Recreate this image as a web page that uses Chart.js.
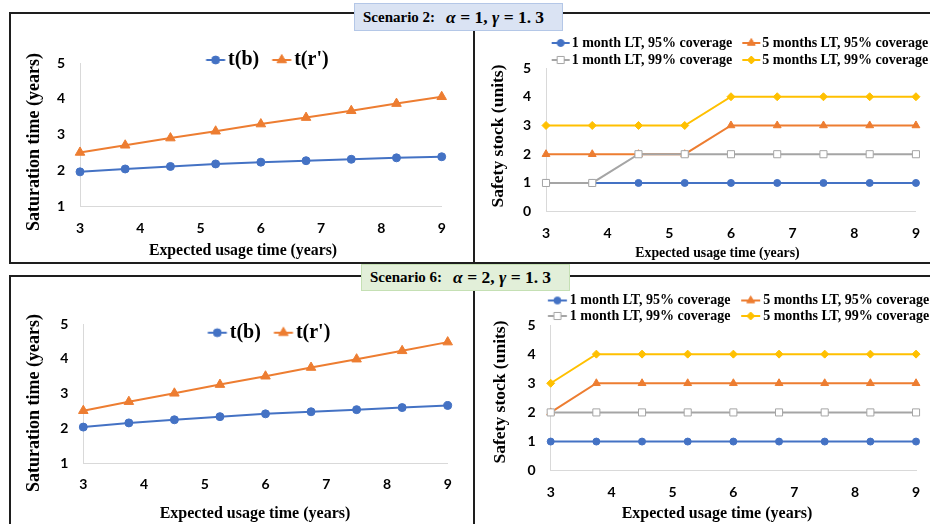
<!DOCTYPE html>
<html><head><meta charset="utf-8">
<script src="https://cdn.jsdelivr.net/npm/chart.js@4.4.1/dist/chart.umd.min.js"></script>
<style>
html,body{margin:0;padding:0;background:#fff;}
body{width:930px;height:524px;overflow:hidden;position:relative;}
.ln{position:absolute;background:#1e1e1e;}
.banner{position:absolute;box-sizing:border-box;display:flex;align-items:center;padding-left:8px;font-family:'Liberation Serif',serif;font-weight:bold;font-size:15px;color:#000;white-space:nowrap;}
.banner .m{font-size:17.5px;margin-left:11px;}
canvas{position:absolute;}
.t{position:absolute;font-family:'Liberation Serif',serif;font-weight:bold;color:#000;white-space:nowrap;transform:translate(-50%,-50%);}
.ty{transform:translate(-50%,-50%) rotate(-90deg);}
</style></head><body>
<!-- frame lines -->
<div class="ln" style="left:8.5px;top:11.5px;width:922px;height:2px"></div>
<div class="ln" style="left:8.5px;top:11.5px;width:2px;height:252px"></div>
<div class="ln" style="left:8.5px;top:261.5px;width:922px;height:2px"></div>
<div class="ln" style="left:472.5px;top:30px;width:2px;height:232px"></div>
<div class="ln" style="left:8.5px;top:275px;width:922px;height:2px"></div>
<div class="ln" style="left:8.5px;top:275px;width:2px;height:250px"></div>
<div class="ln" style="left:472.5px;top:290px;width:2px;height:240px"></div>

<canvas id="c1" width="458" height="226" style="left:12px;top:34px"></canvas>
<canvas id="c2" width="457" height="229" style="left:476px;top:33px"></canvas>
<canvas id="c3" width="458" height="244" style="left:12px;top:280px"></canvas>
<canvas id="c4" width="457" height="232" style="left:476px;top:292px"></canvas>

<div class="banner" style="left:354px;top:3px;width:209px;height:28px;background:#dae3f3;border:1px solid #b4c7e7;">Scenario 2:<span class="m"><i>α</i> = 1, <i>γ</i> = 1.<span style="margin-left:4px">3</span></span></div>
<div class="banner" style="left:361px;top:264px;width:209px;height:27px;background:#e2efd9;border:1px solid #c5e0b4;">Scenario 6:<span class="m"><i>α</i> = 2, <i>γ</i> = 1.<span style="margin-left:4px">3</span></span></div>

<div class="t ty" style="left:33px;top:141.5px;font-size:18px">Saturation time (years)</div>
<div class="t" style="left:243px;top:250px;font-size:15.8px">Expected usage time (years)</div>
<div class="t ty" style="left:497px;top:135.5px;font-size:17.5px">Safety stock (units)</div>
<div class="t" style="left:717.5px;top:253px;font-size:13.8px">Expected usage time (years)</div>
<div class="t ty" style="left:33px;top:403px;font-size:18px">Saturation time (years)</div>
<div class="t" style="left:255px;top:513px;font-size:16px">Expected usage time (years)</div>
<div class="t ty" style="left:498.7px;top:391.7px;font-size:17.5px">Safety stock (units)</div>
<div class="t" style="left:717px;top:513px;font-size:16px">Expected usage time (years)</div>

<script>
// ---------- data ----------
const usageYears = [3, 3.75, 4.5, 5.25, 6, 6.75, 7.5, 8.25, 9];
const xTickValues = [3, 4, 5, 6, 7, 8, 9];
const satTickValues = [1, 2, 3, 4, 5];
const stockTickValues = [0, 1, 2, 3, 4, 5];

const satNames = ['t(b)', "t(r')"];
const stockNames = ['1 month LT, 95% coverage', '5 months LT, 95% coverage', '1 month LT, 99% coverage', '5 months LT, 99% coverage'];

// Scenario 2 (alpha = 1, gamma = 1.3)
const s2_tb = [1.97, 2.05, 2.12, 2.19, 2.24, 2.28, 2.32, 2.36, 2.39];
const s2_tr = [2.51, 2.71, 2.91, 3.10, 3.30, 3.48, 3.67, 3.87, 4.06];
const s2_1m95 = [1, 1, 1, 1, 1, 1, 1, 1, 1];
const s2_5m95 = [2, 2, 2, 2, 3, 3, 3, 3, 3];
const s2_1m99 = [1, 1, 2, 2, 2, 2, 2, 2, 2];
const s2_5m99 = [3, 3, 3, 3, 4, 4, 4, 4, 4];

// Scenario 6 (alpha = 2, gamma = 1.3)
const s6_tb = [2.04, 2.16, 2.25, 2.34, 2.42, 2.48, 2.54, 2.60, 2.66];
const s6_tr = [2.51, 2.77, 3.01, 3.26, 3.50, 3.75, 3.99, 4.23, 4.48];
const s6_1m95 = [1, 1, 1, 1, 1, 1, 1, 1, 1];
const s6_5m95 = [2, 3, 3, 3, 3, 3, 3, 3, 3];
const s6_1m99 = [2, 2, 2, 2, 2, 2, 2, 2, 2];
const s6_5m99 = [3, 4, 4, 4, 4, 4, 4, 4, 4];

// ---------- styles ----------
const BLUE = '#4472c4', ORANGE = '#ed7d31', GRAY = '#a5a5a5', GOLD = '#ffc000';
const satStyles = [
  {color: BLUE, fill: BLUE, style: 'circle', r: 4},
  {color: ORANGE, fill: ORANGE, style: 'triangle', r: 5.5}
];
const stockStyles = [
  {color: BLUE, fill: BLUE, style: 'circle', r: 3.5},
  {color: ORANGE, fill: ORANGE, style: 'triangle', r: 4.5},
  {color: GRAY, fill: '#ffffff', style: 'rect', r: 5},
  {color: GOLD, fill: GOLD, style: 'rectRot', r: 4}
];

function marker(g, style, x, y, r, color, fill) {
  g.beginPath();
  if (style === 'circle') g.arc(x, y, r, 0, Math.PI * 2);
  else if (style === 'triangle') { g.moveTo(x, y - r); g.lineTo(x + r * 0.866, y + r * 0.5); g.lineTo(x - r * 0.866, y + r * 0.5); g.closePath(); }
  else if (style === 'rect') { const s = r * Math.SQRT1_2; g.rect(x - s, y - s, 2 * s, 2 * s); }
  else if (style === 'rectRot') { g.moveTo(x, y - r); g.lineTo(x + r, y); g.lineTo(x, y + r); g.lineTo(x - r, y); g.closePath(); }
  g.fillStyle = fill; g.fill(); g.lineWidth = 1; g.strokeStyle = color; g.stroke();
}
// legend icon: line + marker, placed from a to a+L inside a box of width bw
function makeIcon(st, bw, a, L) {
  const c = bw / 2;
  const half = Math.ceil(Math.max(c - a, a + L - c, st.r + 1)) + 1;
  const H = 2 * Math.ceil(st.r + 2);
  const cv = document.createElement('canvas');
  cv.width = 2 * half; cv.height = H;
  const g = cv.getContext('2d');
  const x0 = a - c + half, x1 = a + L - c + half, ym = H / 2;
  g.strokeStyle = st.color; g.lineWidth = 2;
  g.beginPath(); g.moveTo(x0, ym); g.lineTo(x1, ym); g.stroke();
  marker(g, st.style, (x0 + x1) / 2, ym, st.r, st.color, st.fill);
  return cv;
}

const legendShift = {
  id: 'legendShift',
  afterLayout(chart, args, opts) {
    const lg = chart.legend; if (!lg) return;
    const dx = opts.dx || 0, dy = opts.dy || 0;
    lg.left += dx; lg.right += dx; lg.top += dy; lg.bottom += dy;
  }
};

const TICK_FONT = {family: 'Lato', size: 14, weight: 'bold'};
const LEG_FONT = "'Liberation Serif', serif";

function build(id, o) {
  const icons = o.styles.map(st => makeIcon(st, o.bw, o.a, o.L));
  const n = o.values.length;
  return new Chart(document.getElementById(id), {
    type: 'line',
    data: {
      datasets: o.values.map((vals, i) => ({
        label: o.names[i],
        data: usageYears.map((x, j) => ({x: x, y: vals[j]})),
        borderColor: o.styles[i].color,
        backgroundColor: o.styles[i].fill,
        pointBackgroundColor: o.styles[i].fill,
        pointBorderColor: o.styles[i].color,
        pointStyle: o.styles[i].style,
        pointRadius: o.styles[i].r,
        pointBorderWidth: 1,
        borderWidth: 2,
        tension: 0,
        clip: false,
        order: n - i
      }))
    },
    options: {
      responsive: false, animation: false, devicePixelRatio: 1,
      layout: {padding: o.pad},
      plugins: {
        tooltip: {enabled: false},
        legendShift: {dx: o.dx, dy: o.dy},
        legend: {
          position: 'top', align: 'center', maxHeight: o.maxH,
          labels: {
            usePointStyle: true, pointStyleWidth: o.bw, padding: o.lp, color: '#000',
            font: {family: LEG_FONT, size: o.lfs, weight: 'bold'},
            sort: (a, b) => a.datasetIndex - b.datasetIndex,
            generateLabels: (chart) => {
              const items = Chart.defaults.plugins.legend.labels.generateLabels(chart);
              items.forEach(it => { it.pointStyle = icons[it.datasetIndex]; it.fontColor = '#000'; });
              return items;
            }
          }
        }
      },
      scales: {
        x: {
          type: 'linear', min: 3, max: 9,
          afterBuildTicks: s => { s.ticks = xTickValues.map(v => ({value: v})); },
          afterFit: s => { s.height = o.xh; },
          grid: {display: false, drawTicks: false},
          border: {display: true, color: '#d9d9d9', width: 1},
          ticks: {padding: o.xtp, color: '#000', font: TICK_FONT, maxRotation: 0}
        },
        y: {
          type: 'linear', min: o.yTicks[0], max: o.yTicks[o.yTicks.length - 1],
          afterBuildTicks: s => { s.ticks = o.yTicks.map(v => ({value: v})); },
          afterFit: s => { s.width = o.yw; },
          grid: {display: false, drawTicks: false},
          border: {display: true, color: '#d9d9d9', width: 1},
          ticks: {padding: 15, color: '#000', font: TICK_FONT}
        }
      }
    },
    plugins: [legendShift]
  });
}

build('c1', {values: [s2_tb, s2_tr], names: satNames, styles: satStyles, yTicks: satTickValues,
  pad: {top: 0, left: 0, right: 28.3, bottom: 0}, yw: 68, xh: 53.3, xtp: 13,
  maxH: 29, lfs: 20, lp: 4, bw: 21, a: 9, L: 19, dx: 36, dy: 12});
build('c2', {values: [s2_1m95, s2_5m95, s2_1m99, s2_5m99], names: stockNames, styles: stockStyles, yTicks: stockTickValues,
  pad: {top: 0, left: 0, right: 15, bottom: 0}, yw: 70, xh: 50.3, xtp: 13,
  maxH: 35, lfs: 14, lp: 3, bw: 20, a: 7, L: 18, dx: 39.5, dy: 0});
build('c3', {values: [s6_tb, s6_tr], names: satNames, styles: satStyles, yTicks: satTickValues,
  pad: {top: 15, left: 0, right: 22.3, bottom: 0}, yw: 71.3, xh: 60.7, xtp: 12.3,
  maxH: 29, lfs: 20, lp: 4, bw: 21, a: 9, L: 19, dx: 34.7, dy: 23.7});
build('c4', {values: [s6_1m95, s6_5m95, s6_1m99, s6_5m99], names: stockNames, styles: stockStyles, yTicks: stockTickValues,
  pad: {top: 0, left: 0, right: 13.7, bottom: 0}, yw: 74.7, xh: 53.3, xtp: 12.9,
  maxH: 33, lfs: 14, lp: 1.5, bw: 24.2, a: 9.2, L: 19, dx: 36.3, dy: 0});
</script>
</body></html>
